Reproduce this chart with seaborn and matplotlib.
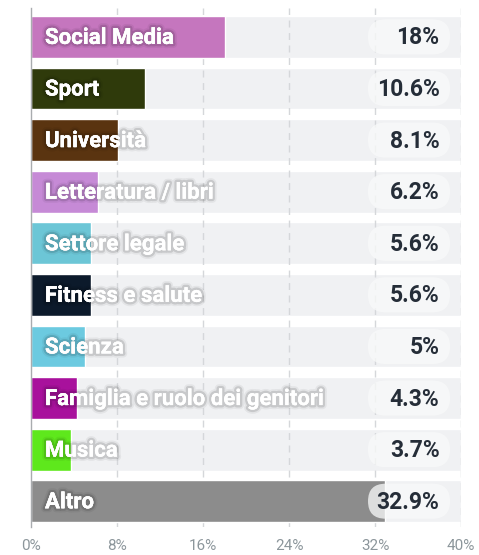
import matplotlib
matplotlib.use("Agg")
import matplotlib.pyplot as plt
import matplotlib.patheffects as pe
from matplotlib.patches import FancyBboxPatch
import seaborn as sns
import pandas as pd

categorie = ["Social Media", "Sport", "Università", "Letteratura / libri", "Settore legale",
             "Fitness e salute", "Scienza", "Famiglia e ruolo dei genitori", "Musica", "Altro"]
valori = [18, 10.6, 8.1, 6.2, 5.6, 5.6, 5, 4.3, 3.7, 32.9]
etichette = ["18%", "10.6%", "8.1%", "6.2%", "5.6%", "5.6%", "5%", "4.3%", "3.7%", "32.9%"]
colori = ["#c576be", "#2f3a0b", "#5a3410", "#c68ad6", "#6cc6d6",
          "#0c1a2b", "#6ccae0", "#a8119c", "#5ee81c", "#8c8c8c"]
tick_vals = [0, 8, 16, 24, 32, 40]

sns.set_style("white")
plt.rcParams["font.family"] = ["Roboto", "DejaVu Sans"]

df = pd.DataFrame({"categoria": categorie, "valore": valori, "fondo": [40] * len(valori)})

fig = plt.figure(figsize=(4.79, 5.55), dpi=100)
ax = fig.add_axes([31 / 479, 28 / 555, 430 / 479, 519 / 555])

# barre di sfondo grigie
sns.barplot(data=df, x="fondo", y="categoria", color="#f0f1f3", width=0.81,
            saturation=1, ax=ax, zorder=1)
# griglia tratteggiata
for t in tick_vals[1:]:
    ax.axvline(t, color="#d5d7da", lw=1, ls=(0, (5, 4)), zorder=1.5)
# barre colorate
sns.barplot(data=df, x="valore", y="categoria", hue="categoria", palette=colori,
            width=0.81, saturation=1, legend=False, ax=ax, zorder=2)

ax.set_xlim(0, 40)
ax.set_ylim(9.5, -0.56)

px_x = 430 / 40
px_y = 519 / 10.06
ombra = [pe.withStroke(linewidth=6, foreground=(0, 0, 0, 0.05)),
         pe.withStroke(linewidth=3.5, foreground=(0, 0, 0, 0.12)),
         pe.Normal()]
for i, (cat, lab) in enumerate(zip(categorie, etichette)):
    ax.text(1.3, i + 0.02, cat, color="white", fontsize=16, fontweight="bold", va="center",
            ha="left", zorder=5, path_effects=ombra)
    # pillola per il valore
    w = 82 / px_x
    h = 35 / px_y
    r = 17.5 / px_x
    box = FancyBboxPatch((31.35, i - h / 2), w, h,
                         boxstyle=f"round,pad=0,rounding_size={r}",
                         mutation_aspect=(17.5 / px_y) / r,
                         fc=(0.975, 0.98, 0.98, 0.75), ec="none", zorder=3)
    ax.add_patch(box)
    ax.text(38.0, i + 0.02, lab, color="#252d38", fontsize=16.5, fontweight="bold",
            va="center", ha="right", zorder=5)

ax.set_xticks(tick_vals)
ax.set_xticklabels([f"{t}%" for t in tick_vals], color="#8c969b", fontsize=11)
ax.tick_params(axis="x", length=0, pad=9)
ax.set_yticks([])
ax.set_xlabel("")
ax.set_ylabel("")
for s in ["top", "right", "bottom"]:
    ax.spines[s].set_visible(False)
ax.spines["left"].set_color("#a9acaf")
ax.spines["left"].set_linewidth(1)
ax.spines["left"].set_zorder(4)

fig.savefig("out.png", dpi=100)
